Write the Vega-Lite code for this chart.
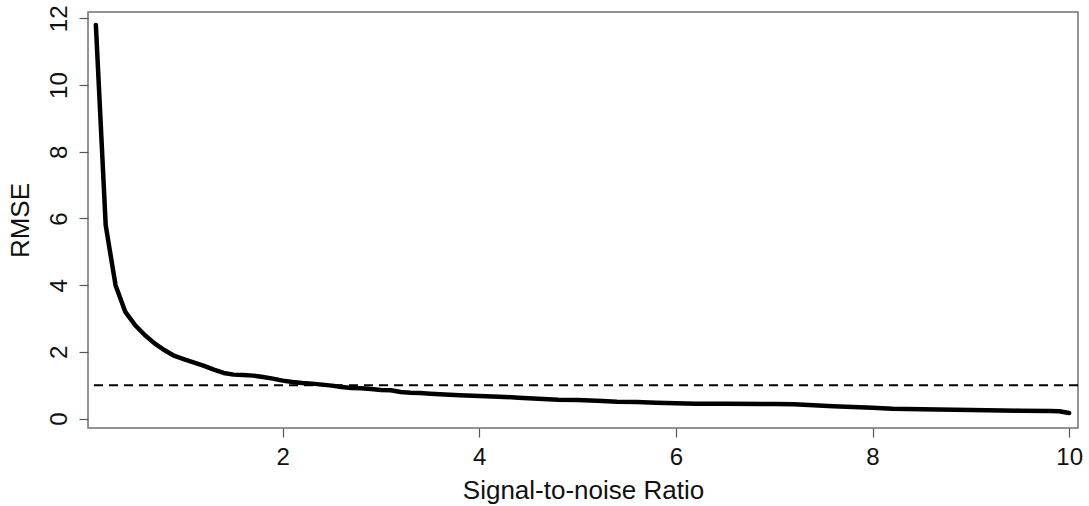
{
  "$schema": "https://vega.github.io/schema/vega-lite/v6.json",
  "width": 990,
  "height": 416,
  "autosize": "none",
  "padding": {"left": 88, "top": 12, "right": 11, "bottom": 78},
  "background": "white",
  "config": {
    "view": {"stroke": "#707070", "strokeWidth": 1.5},
    "font": "Liberation Sans",
    "axis": {
      "grid": false,
      "domain": false,
      "tickColor": "#555555",
      "tickWidth": 1.2,
      "tickSize": 9,
      "labelFont": "Liberation Sans",
      "labelFontSize": 24,
      "labelColor": "#111111",
      "titleFont": "Liberation Sans",
      "titleFontSize": 26,
      "titleFontWeight": "normal",
      "titleColor": "#111111"
    }
  },
  "layer": [
    {
      "data": {"values": [
        {"snr": 0.1, "rmse": 11.8},
        {"snr": 0.2, "rmse": 5.8},
        {"snr": 0.3, "rmse": 4.0},
        {"snr": 0.4, "rmse": 3.2},
        {"snr": 0.5, "rmse": 2.8},
        {"snr": 0.6, "rmse": 2.5},
        {"snr": 0.7, "rmse": 2.25},
        {"snr": 0.8, "rmse": 2.05},
        {"snr": 0.9, "rmse": 1.88},
        {"snr": 1.0, "rmse": 1.78},
        {"snr": 1.1, "rmse": 1.68},
        {"snr": 1.2, "rmse": 1.58},
        {"snr": 1.3, "rmse": 1.47},
        {"snr": 1.4, "rmse": 1.37},
        {"snr": 1.5, "rmse": 1.32},
        {"snr": 1.6, "rmse": 1.31},
        {"snr": 1.7, "rmse": 1.29},
        {"snr": 1.8, "rmse": 1.25},
        {"snr": 1.9, "rmse": 1.2},
        {"snr": 2.0, "rmse": 1.14},
        {"snr": 2.1, "rmse": 1.1},
        {"snr": 2.2, "rmse": 1.07},
        {"snr": 2.3, "rmse": 1.05},
        {"snr": 2.4, "rmse": 1.02},
        {"snr": 2.5, "rmse": 0.99},
        {"snr": 2.6, "rmse": 0.95},
        {"snr": 2.7, "rmse": 0.92},
        {"snr": 2.8, "rmse": 0.91},
        {"snr": 2.9, "rmse": 0.89},
        {"snr": 3.0, "rmse": 0.86},
        {"snr": 3.1, "rmse": 0.85},
        {"snr": 3.2, "rmse": 0.8},
        {"snr": 3.3, "rmse": 0.78},
        {"snr": 3.4, "rmse": 0.77},
        {"snr": 3.5, "rmse": 0.75},
        {"snr": 3.6, "rmse": 0.73},
        {"snr": 3.8, "rmse": 0.7},
        {"snr": 4.0, "rmse": 0.68},
        {"snr": 4.2, "rmse": 0.66},
        {"snr": 4.4, "rmse": 0.63},
        {"snr": 4.6, "rmse": 0.6},
        {"snr": 4.8, "rmse": 0.57},
        {"snr": 5.0, "rmse": 0.56},
        {"snr": 5.2, "rmse": 0.54},
        {"snr": 5.4, "rmse": 0.51},
        {"snr": 5.6, "rmse": 0.5},
        {"snr": 5.8, "rmse": 0.48},
        {"snr": 6.0, "rmse": 0.46},
        {"snr": 6.2, "rmse": 0.45},
        {"snr": 6.5, "rmse": 0.45},
        {"snr": 7.0, "rmse": 0.44},
        {"snr": 7.2, "rmse": 0.43},
        {"snr": 7.4, "rmse": 0.4},
        {"snr": 7.6, "rmse": 0.37},
        {"snr": 7.8, "rmse": 0.35},
        {"snr": 8.0, "rmse": 0.33},
        {"snr": 8.2, "rmse": 0.3},
        {"snr": 8.5, "rmse": 0.28},
        {"snr": 9.0, "rmse": 0.26},
        {"snr": 9.5, "rmse": 0.24},
        {"snr": 9.8, "rmse": 0.23},
        {"snr": 9.9, "rmse": 0.22},
        {"snr": 10.0, "rmse": 0.17}
      ]},
      "mark": {"type": "line", "color": "black", "strokeWidth": 4.5, "strokeCap": "round", "strokeJoin": "round"},
      "encoding": {
        "x": {
          "field": "snr", "type": "quantitative",
          "scale": {"domain": [0.02, 10.09], "nice": false, "zero": false},
          "axis": {"values": [2, 4, 6, 8, 10], "title": "Signal-to-noise Ratio", "labelPadding": 8, "titlePadding": 8}
        },
        "y": {
          "field": "rmse", "type": "quantitative",
          "scale": {"domain": [-0.28, 12.19], "nice": false, "zero": false},
          "axis": {"values": [0, 2, 4, 6, 8, 10, 12], "title": "RMSE", "labelAngle": 270, "labelAlign": "center", "labelBaseline": "bottom", "labelPadding": 8, "titlePadding": 14}
        }
      }
    },
    {
      "data": {"values": [{"reference": 1}]},
      "mark": {"type": "rule", "color": "black", "strokeWidth": 2, "strokeDash": [9, 6]},
      "encoding": {
        "y": {"field": "reference", "type": "quantitative"}
      }
    }
  ]
}
